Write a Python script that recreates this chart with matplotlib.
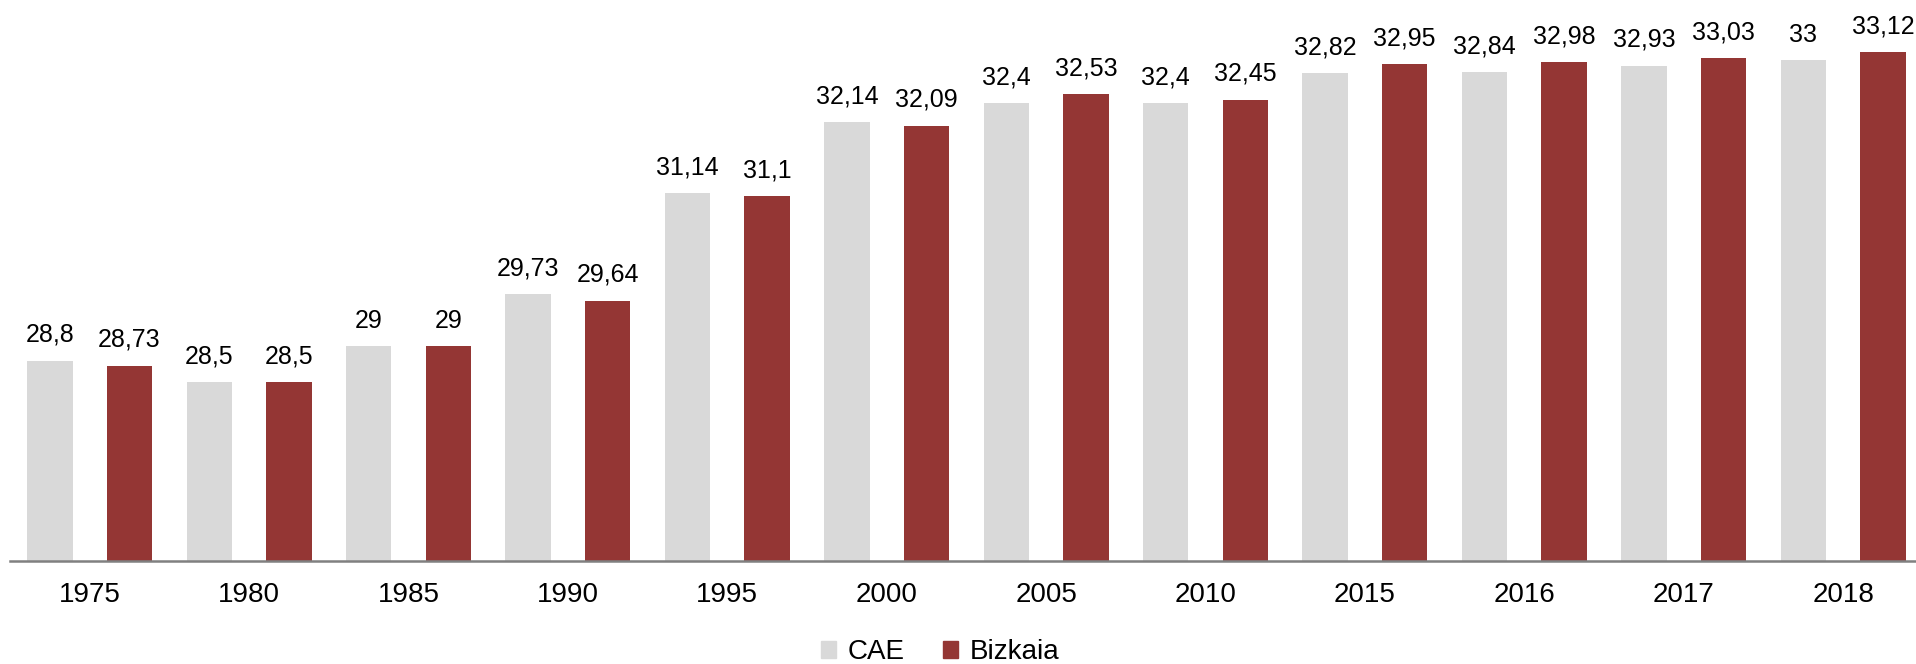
import numpy as np
import matplotlib.pyplot as plt
from matplotlib.patches import Patch

plt.rcParams['font.family'] = ['Liberation Sans', 'DejaVu Sans']

years = ['1975', '1980', '1985', '1990', '1995', '2000', '2005', '2010',
         '2015', '2016', '2017', '2018']
cae = [28.8, 28.5, 29, 29.73, 31.14, 32.14, 32.4, 32.4, 32.82, 32.84, 32.93, 33]
bizkaia = [28.73, 28.5, 29, 29.64, 31.1, 32.09, 32.53, 32.45, 32.95, 32.98, 33.03, 33.12]

cae_color = '#D9D9D9'
biz_color = '#943634'

def fmt(v):
    return ('%g' % v).replace('.', ',')

fig = plt.figure(figsize=(19.16, 6.64), dpi=100)
ax = fig.add_axes([10 / 1916, 1 - 561 / 664, 1906 / 1916, 561 / 664])

x = np.arange(len(years))
w = 0.285
b1 = ax.bar(x - 0.25, np.array(cae) - 26, width=w, bottom=26, color=cae_color)
b2 = ax.bar(x + 0.25, np.array(bizkaia) - 26, width=w, bottom=26, color=biz_color)

for bars, vals in [(b1, cae), (b2, bizkaia)]:
    for r, v in zip(bars, vals):
        ax.annotate(fmt(v), (r.get_x() + r.get_width() / 2, v),
                    xytext=(0, 10), textcoords='offset points',
                    ha='center', va='bottom', fontsize=18)

ax.set_xlim(-0.5, -0.5 + 1906 / 159.4)
ax.set_ylim(26, 26 + 561 / 71.5)
ax.set_xticks(x)
ax.set_xticklabels(years, fontsize=20)
ax.tick_params(axis='x', length=0, pad=15)
ax.set_yticks([])
for s in ['top', 'right', 'left']:
    ax.spines[s].set_visible(False)
ax.spines['bottom'].set_color('#808080')
ax.spines['bottom'].set_linewidth(1.8)

handles = [Patch(color=cae_color, label='CAE'), Patch(color=biz_color, label='Bizkaia')]
fig.legend(handles=handles, loc='center', bbox_to_anchor=(940 / 1916, 1 - 652 / 664),
           ncol=2, frameon=False, fontsize=20, handlelength=0.55, handleheight=0.55,
           handletextpad=0.4, columnspacing=1.4)

fig.savefig('out.png', dpi=100)
